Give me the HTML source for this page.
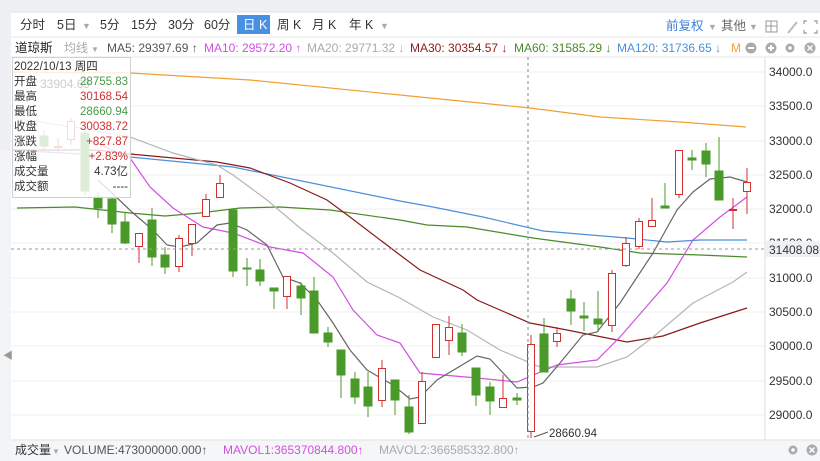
<!DOCTYPE html>
<html><head><meta charset="utf-8"><style>
body{margin:0;background:#fff;}
svg{display:block;font-family:"Liberation Sans","Noto Sans CJK SC",sans-serif;}
</style></head><body>
<svg width="820" height="461" viewBox="0 0 820 461" xmlns="http://www.w3.org/2000/svg">
<rect x="0" y="0" width="820" height="461" fill="#fff"/>
<rect x="0" y="0" width="820" height="12" fill="#eef0f3"/>
<rect x="0" y="0" width="11" height="461" fill="#eef0f3"/>
<rect x="0" y="150" width="11" height="311" fill="#f3f4f6"/>
<text x="3" y="359" font-size="10" fill="#999">◀</text>
<line x1="11" y1="12" x2="820" y2="12" stroke="#dfe2e6"/>
<!-- toolbar -->
<g font-size="12.5" fill="#333">
<text x="20" y="29">分时</text>
<text x="57" y="29">5日</text><text x="82" y="29" fill="#aaa" font-size="9">▼</text>
<text x="100" y="29">5分</text>
<text x="131" y="29">15分</text>
<text x="168" y="29">30分</text>
<text x="204" y="29">60分</text>
<rect x="237" y="15" width="33" height="19" fill="#4a90e2"/>
<text x="243" y="29" fill="#fff">日 K</text>
<text x="277" y="29">周 K</text>
<text x="312" y="29">月 K</text>
<text x="349" y="29">年 K</text><text x="380" y="29" fill="#aaa" font-size="9">▼</text>
<text x="666" y="30" fill="#3b7fd4">前复权</text><text x="708" y="30" fill="#aaa" font-size="9">▼</text>
<text x="721" y="30" fill="#666">其他</text><text x="749" y="30" fill="#aaa" font-size="9">▼</text>
</g>
<rect x="766" y="21" width="11" height="11" fill="none" stroke="#999"/>
<line x1="766" y1="26" x2="777" y2="26" stroke="#999"/><line x1="771" y1="21" x2="771" y2="32" stroke="#999"/>
<line x1="788" y1="33" x2="797" y2="22" stroke="#bbb" stroke-width="2"/>
<g stroke="#999" stroke-width="1.2" fill="none"><path d="M804 24v-3h3M814 21h3v3M817 30v3h-3M807 33h-3v-3"/></g>
<line x1="11" y1="37" x2="820" y2="37" stroke="#e5e7ea"/>
<!-- MA header -->
<g font-size="12">
<text x="15" y="52" fill="#222" font-size="12.5">道琼斯</text>
<text x="64" y="52" fill="#aaa">均线</text><text x="91" y="52" fill="#aaa" font-size="8">▼</text>
<text x="107" y="52" fill="#555">MA5: 29397.69 ↑</text>
<text x="204" y="52" fill="#d050e0">MA10: 29572.20 ↑</text>
<text x="307" y="52" fill="#aaa">MA20: 29771.32 ↓</text>
<text x="410" y="52" fill="#8b1a1a">MA30: 30354.57 ↓</text>
<text x="514" y="52" fill="#4a8a2a">MA60: 31585.29 ↓</text>
<text x="617" y="52" fill="#4a90d9">MA120: 31736.65 ↓</text>
<text x="731" y="52" fill="#f0a030">M</text>
</g>
<circle cx="751" cy="48" r="5.5" fill="#aaa"/><rect x="748" y="47" width="6" height="2" fill="#fff"/>
<circle cx="771" cy="48" r="5.5" fill="#aaa"/><rect x="768" y="47" width="6" height="2" fill="#fff"/><rect x="770" y="45" width="2" height="6" fill="#fff"/>
<circle cx="790" cy="48" r="4.5" fill="#aaa"/><circle cx="790" cy="48" r="1.8" fill="#fff"/>
<circle cx="810" cy="48" r="5.5" fill="#aaa"/><path d="M807.5 45.5l5 5M812.5 45.5l-5 5" stroke="#fff" stroke-width="1.5"/>
<line x1="11" y1="57" x2="820" y2="57" stroke="#e5e7ea"/>
<!-- grid -->
<g stroke="#efefef">
<line x1="11" y1="72" x2="765" y2="72"/><line x1="11" y1="106" x2="765" y2="106"/>
<line x1="11" y1="141" x2="765" y2="141"/><line x1="11" y1="175" x2="765" y2="175"/>
<line x1="11" y1="209" x2="765" y2="209"/><line x1="11" y1="243" x2="765" y2="243"/>
<line x1="11" y1="278" x2="765" y2="278"/><line x1="11" y1="312" x2="765" y2="312"/>
<line x1="11" y1="346" x2="765" y2="346"/><line x1="11" y1="381" x2="765" y2="381"/>
<line x1="11" y1="415" x2="765" y2="415"/>
</g>
<line x1="765" y1="57" x2="765" y2="440" stroke="#ddd"/>
<g font-size="12" fill="#333">
<text x="769" y="76">34000.0</text><text x="769" y="110">33500.0</text>
<text x="769" y="145">33000.0</text><text x="769" y="179">32500.0</text>
<text x="769" y="213">32000.0</text><text x="769" y="247">31500.0</text>
<text x="769" y="282">31000.0</text><text x="769" y="316">30500.0</text>
<text x="769" y="350">30000.0</text><text x="769" y="385">29500.0</text>
<text x="769" y="419">29000.0</text>
</g>
<!-- MA lines -->
<g fill="none" stroke-width="1.2">
<polyline stroke="#f0a030" points="12,72 130,73 250,80 410,96 530,108 600,117 680,122 746,127"/>
<polyline stroke="#4a90d9" points="12,150 130,157 233,167 400,201 433,207 483,217 543,231 627,238 667,242 700,240 747,240"/>
<polyline stroke="#4a8a2a" points="17,208 75,207 130,213 165,216 200,213 240,208 280,207 330,210 400,220 427,225 467,227 533,238 600,247 640,253 700,255 747,257"/>
<polyline stroke="#8b1a1a" points="12,150 97,150 130,154 217,162 250,168 290,183 327,200 350,217 400,255 420,270 463,290 477,300 530,323 567,330 627,342 663,336 700,323 747,308"/>
<polyline stroke="#b5b5b5" points="12,118 80,128 130,137 173,153 217,165 233,175 267,200 300,228 333,253 367,282 400,298 433,317 467,330 500,350 540,367 597,367 627,357 653,337 693,303 733,282 747,272"/>
<polyline stroke="#d050e0" points="90,140 130,158 150,187 173,208 203,227 233,233 270,247 303,253 333,277 353,310 377,335 400,343 420,373 477,378 517,382 557,365 597,360 620,337 667,283 693,240 720,217 747,197"/>
<polyline stroke="#666" points="98,180 112,193 133,213 153,230 167,245 180,247 197,243 217,225 230,223 247,230 267,245 283,277 300,283 317,300 333,323 350,350 367,370 393,385 410,399 420,397 437,380 477,356 490,359 517,388 533,387 543,383 560,363 583,335 597,332 620,303 653,253 677,210 693,192 710,179 730,177 747,182"/>
</g>
<!-- candles -->
<g id="c">
<g stroke="#4a9a2a" fill="#4a9a2a">
<line x1="44" y1="130" x2="44" y2="150"/><rect x="40" y="136" width="8" height="10"/>
<line x1="85" y1="130" x2="85" y2="195"/><rect x="81" y="133" width="8" height="58"/>
<line x1="98" y1="192" x2="98" y2="218"/><rect x="94" y="197" width="8" height="11"/>
<line x1="112" y1="197" x2="112" y2="233"/><rect x="108" y="199" width="8" height="25"/>
<line x1="125" y1="212" x2="125" y2="244"/><rect x="121" y="222" width="8" height="21"/>
<line x1="152" y1="208" x2="152" y2="266"/><rect x="148" y="220" width="8" height="37"/>
<line x1="165" y1="247" x2="165" y2="274"/><rect x="161" y="255" width="8" height="12"/>
<line x1="233" y1="210" x2="233" y2="277"/><rect x="229" y="210" width="8" height="61"/>
<line x1="247" y1="258" x2="247" y2="286"/><rect x="243" y="268" width="8" height="1"/>
<line x1="260" y1="259" x2="260" y2="286"/><rect x="256" y="270" width="8" height="11"/>
<line x1="274" y1="288" x2="274" y2="309"/><rect x="270" y="288" width="8" height="3"/>
<line x1="301" y1="282" x2="301" y2="315"/><rect x="297" y="286" width="8" height="12"/>
<line x1="314" y1="277" x2="314" y2="333"/><rect x="310" y="291" width="8" height="42"/>
<line x1="328" y1="327" x2="328" y2="347"/><rect x="324" y="333" width="8" height="9"/>
<line x1="341" y1="350" x2="341" y2="398"/><rect x="337" y="350" width="8" height="25"/>
<line x1="355" y1="372" x2="355" y2="404"/><rect x="351" y="379" width="8" height="18"/>
<line x1="368" y1="372" x2="368" y2="417"/><rect x="364" y="387" width="8" height="19"/>
<line x1="395" y1="380" x2="395" y2="415"/><rect x="391" y="380" width="8" height="20"/>
<line x1="409" y1="395" x2="409" y2="434"/><rect x="405" y="407" width="8" height="25"/>
<line x1="462" y1="324" x2="462" y2="356"/><rect x="458" y="333" width="8" height="19"/>
<line x1="476" y1="368" x2="476" y2="406"/><rect x="472" y="368" width="8" height="27"/>
<line x1="490" y1="382" x2="490" y2="415"/><rect x="486" y="387" width="8" height="14"/>
<line x1="517" y1="393" x2="517" y2="405"/><rect x="513" y="398" width="8" height="2"/>
<line x1="544" y1="318" x2="544" y2="372"/><rect x="540" y="334" width="8" height="38"/>
<line x1="571" y1="290" x2="571" y2="325"/><rect x="567" y="299" width="8" height="12"/>
<line x1="584" y1="302" x2="584" y2="331"/><rect x="580" y="316" width="8" height="2"/>
<line x1="598" y1="291" x2="598" y2="332"/><rect x="594" y="319" width="8" height="5"/>
<line x1="665" y1="183" x2="665" y2="208"/><rect x="661" y="206" width="8" height="2"/>
<line x1="692" y1="150" x2="692" y2="170"/><rect x="688" y="158" width="8" height="2"/>
<line x1="706" y1="143" x2="706" y2="177"/><rect x="702" y="151" width="8" height="13"/>
<line x1="719" y1="137" x2="719" y2="200"/><rect x="715" y="171" width="8" height="29"/>
</g>
<g stroke="#d03030" fill="#fff">
<line x1="58" y1="138" x2="58" y2="153"/><rect x="54.5" y="146.5" width="7" height="1"/>
<line x1="71" y1="118" x2="71" y2="145"/><rect x="67.5" y="121.5" width="7" height="18"/>
<line x1="139" y1="247" x2="139" y2="263"/><rect x="135.5" y="233.5" width="7" height="13"/>
<line x1="179" y1="235" x2="179" y2="272"/><rect x="175.5" y="238.5" width="7" height="28"/>
<line x1="192" y1="244" x2="192" y2="256"/><rect x="188.5" y="224.5" width="7" height="19"/>
<line x1="206" y1="194" x2="206" y2="199"/><rect x="202.5" y="199.5" width="7" height="17"/>
<line x1="220" y1="175" x2="220" y2="183"/><rect x="216.5" y="183.5" width="7" height="14"/>
<line x1="287" y1="297" x2="287" y2="309"/><rect x="283.5" y="276.5" width="7" height="20"/>
<line x1="382" y1="360" x2="382" y2="407"/><rect x="378.5" y="368.5" width="7" height="32"/>
<line x1="422" y1="372" x2="422" y2="381"/><rect x="418.5" y="381.5" width="7" height="42"/>
<rect x="432.5" y="324.5" width="7" height="33"/>
<line x1="449" y1="316" x2="449" y2="355"/><rect x="445.5" y="327.5" width="7" height="13"/>
<line x1="503" y1="375" x2="503" y2="398"/><rect x="499.5" y="398.5" width="7" height="9"/>
<line x1="531" y1="335" x2="531" y2="438"/><rect x="527.5" y="344.5" width="7" height="87"/>
<line x1="557" y1="327" x2="557" y2="347"/><rect x="553.5" y="333.5" width="7" height="8"/>
<line x1="612" y1="270" x2="612" y2="332"/><rect x="608.5" y="273.5" width="7" height="52"/>
<line x1="626" y1="237" x2="626" y2="267"/><rect x="622.5" y="243.5" width="7" height="22"/>
<line x1="639" y1="218" x2="639" y2="249"/><rect x="635.5" y="221.5" width="7" height="25"/>
<line x1="652" y1="198" x2="652" y2="220"/><rect x="648.5" y="220.5" width="7" height="6"/>
<line x1="679" y1="195" x2="679" y2="198"/><rect x="675.5" y="150.5" width="7" height="44"/>
<line x1="733" y1="198" x2="733" y2="229"/><line x1="729" y1="210" x2="737" y2="210" stroke-width="2"/>
<line x1="747" y1="168" x2="747" y2="214"/><rect x="743.5" y="182.5" width="7" height="9"/>
</g>
</g>
<!-- crosshair -->
<line x1="528" y1="57" x2="528" y2="440" stroke="#888" stroke-dasharray="3,3"/>
<line x1="11" y1="249" x2="765" y2="249" stroke="#999" stroke-dasharray="3,3"/>
<rect x="766" y="241" width="54" height="16" fill="#eef0f3"/>
<text x="769" y="254" font-size="12" fill="#333">31408.08</text>
<!-- low annotation -->
<path d="M534 437 L548 432" stroke="#555"/>
<text x="549" y="437" font-size="11.5" fill="#333">28660.94</text>
<!-- info box -->
<rect x="12.5" y="57.5" width="118" height="140" fill="#fff" fill-opacity="0.82" stroke="#d0d0d0"/>
<text x="40" y="88" font-size="12" fill="#ccc">33904.69</text>
<g font-size="11.5">
<text x="14" y="70" fill="#333">2022/10/13 周四</text>
<text x="14" y="85" fill="#333">开盘</text><text x="128" y="85" fill="#4a9a4a" text-anchor="end">28755.83</text>
<text x="14" y="100" fill="#333">最高</text><text x="128" y="100" fill="#d03030" text-anchor="end">30168.54</text>
<text x="14" y="115" fill="#333">最低</text><text x="128" y="115" fill="#4a9a4a" text-anchor="end">28660.94</text>
<text x="14" y="130" fill="#333">收盘</text><text x="128" y="130" fill="#d03030" text-anchor="end">30038.72</text>
<text x="14" y="145" fill="#333">涨跌</text><text x="128" y="145" fill="#d03030" text-anchor="end">+827.87</text>
<text x="14" y="160" fill="#333">涨幅</text><text x="128" y="160" fill="#d03030" text-anchor="end">+2.83%</text>
<text x="14" y="175" fill="#333">成交量</text><text x="128" y="175" fill="#333" text-anchor="end">4.73亿</text>
<text x="14" y="190" fill="#333">成交额</text><text x="128" y="190" fill="#333" text-anchor="end">----</text>
</g>
<!-- volume bar -->
<rect x="11" y="440" width="809" height="21" fill="#f5f6f8"/>
<line x1="11" y1="440" x2="820" y2="440" stroke="#dfe2e6"/>
<g font-size="12">
<text x="15" y="454" fill="#333">成交量</text><text x="52" y="454" fill="#aaa" font-size="8">▼</text>
<text x="64" y="454" fill="#555">VOLUME:473000000.000↑</text>
<text x="223" y="454" fill="#d050e0">MAVOL1:365370844.800↑</text>
<text x="379" y="454" fill="#aaa">MAVOL2:366585332.800↑</text>
</g>
<circle cx="793" cy="450" r="4.5" fill="#aaa"/><circle cx="793" cy="450" r="1.8" fill="#fff"/>
<circle cx="812" cy="450" r="5.5" fill="#aaa"/><path d="M809.5 447.5l5 5M814.5 447.5l-5 5" stroke="#fff" stroke-width="1.5"/>
</svg>
</body></html>
